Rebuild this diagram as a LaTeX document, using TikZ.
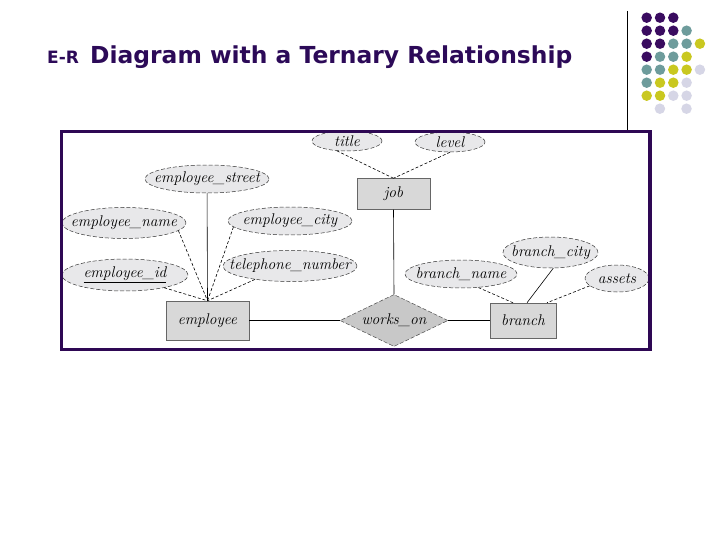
\documentclass[tikz,border=0pt]{standalone}
\usepackage{fontspec}
\usetikzlibrary{shapes.geometric}
\newfontfamily\titlefont{DejaVu Sans}
\definecolor{titlepurple}{RGB}{44,10,88}
\definecolor{framepurple}{RGB}{46,8,84}
\definecolor{dotP}{RGB}{58,12,96}
\definecolor{dotT}{RGB}{110,156,156}
\definecolor{dotY}{RGB}{201,200,32}
\definecolor{dotL}{RGB}{214,214,230}
\definecolor{attrgray}{RGB}{232,232,234}
\definecolor{boxgray}{RGB}{216,216,216}
\definecolor{relgray}{RGB}{200,200,200}
\tikzset{
  attrtext/.style={inner sep=0pt, font=\fontsize{15.5}{18}\selectfont\itshape},
  attr/.style={ellipse, draw=black!80, dash pattern=on 4pt off 2pt, line width=0.5pt,
    fill=attrgray, inner sep=0pt, label={[attrtext]center:#1}},
  entity/.style={rectangle, draw=black!60, line width=0.5pt, fill=boxgray, inner sep=0pt,
    font=\fontsize{15.5}{18}\selectfont\itshape},
  rel/.style={diamond, aspect=2.08, draw=black!70, dash pattern=on 4pt off 2pt, line width=0.5pt,
    fill=relgray, inner sep=0pt, font=\fontsize{15.5}{18}\selectfont\itshape},
  solidlink/.style={draw=black, line width=0.6pt},
  dashlink/.style={draw=black, line width=0.6pt, dash pattern=on 3pt off 2pt},
  dot/.style={circle, inner sep=0pt, minimum size=10.5pt}
}
\begin{document}
\begin{tikzpicture}[x=1pt,y=-1pt]
\useasboundingbox (0,0) rectangle (720,540);
\fill[white] (0,0) rectangle (720,540);

% title
\node[anchor=base west, inner sep=0pt, text=titlepurple] (er) at (47,64)
  {\fontsize{17}{20}\titlefont\bfseries E-R};
\node[anchor=base west, inner sep=0pt, text=titlepurple] (ttl) at (90,64)
  {\fontsize{23.4}{28}\titlefont\bfseries Diagram with a Ternary Relationship};

% decoration: vertical line and dots
\coordinate (vt) at (627,11);
\coordinate (vb) at (627,130);
\draw[line width=1pt] (vt) -- (vb);
\foreach \c [count=\i] in {dotP,dotP,dotP}{\node[dot, fill=\c] at ({633.4+13.3*\i},17.7) {};}
\foreach \c [count=\i] in {dotP,dotP,dotP,dotT}{\node[dot, fill=\c] at ({633.4+13.3*\i},30.7) {};}
\foreach \c [count=\i] in {dotP,dotP,dotT,dotT,dotY}{\node[dot, fill=\c] at ({633.4+13.3*\i},43.7) {};}
\foreach \c [count=\i] in {dotP,dotT,dotT,dotY}{\node[dot, fill=\c] at ({633.4+13.3*\i},56.7) {};}
\foreach \c [count=\i] in {dotT,dotT,dotY,dotY,dotL}{\node[dot, fill=\c] at ({633.4+13.3*\i},69.7) {};}
\foreach \c [count=\i] in {dotT,dotY,dotY,dotL}{\node[dot, fill=\c] at ({633.4+13.3*\i},82.7) {};}
\foreach \c [count=\i] in {dotY,dotY,dotL,dotL}{\node[dot, fill=\c] at ({633.4+13.3*\i},95.7) {};}
\node[dot, fill=dotL] at (659.9,108.7) {};
\node[dot, fill=dotL] at (686.5,108.7) {};

% attributes
\node[attr={employee\_street}, minimum width=124pt, minimum height=28pt] (street) at (207,179) {};
\node[attr={employee\_name}, minimum width=124pt, minimum height=31pt] (ename) at (124,223) {};
\node[attr={employee\_city}, minimum width=124pt, minimum height=28pt] (ecity) at (290,221) {};
\node[attr={\underline{employee\_id}}, minimum width=126pt, minimum height=32pt] (eid) at (125,275) {};
\node[attr={telephone\_number}, minimum width=134pt, minimum height=31pt] (tel) at (290,266) {};
\node[attr={title}, minimum width=70pt, minimum height=20pt] (title) at (347,141) {};
\node[attr={level}, minimum width=70pt, minimum height=20pt] (level) at (450,142) {};
\node[attr={branch\_name}, minimum width=112pt, minimum height=28pt] (bname) at (461,274) {};
\node[attr={branch\_city}, minimum width=95pt, minimum height=31pt] (bcity) at (550.5,252.5) {};
\node[attr={assets}, minimum width=64pt, minimum height=27pt] (assets) at (617,278.5) {};

% entities and relationship
\node[entity, minimum width=73pt, minimum height=31pt] (job) at (393.5,194) {job};
\node[entity, minimum width=83pt, minimum height=39pt] (emp) at (207.5,320.5) {employee};
\node[entity, minimum width=66pt, minimum height=35pt] (branch) at (523,320.5) {branch};
\node[rel, minimum width=108pt, minimum height=52pt] (works) at (394,320.5) {works\_on};

% connectors
\draw[solidlink] (street) -- (emp.north);
\draw[dashlink] (ename.-8) -- (emp.north);
\draw[dashlink] (ecity.186) -- (emp.north);
\draw[dashlink] (eid.-18) -- (emp.north);
\draw[dashlink] (tel.201) -- (emp.north);
\draw[dashlink] (title.224) -- (job.north);
\draw[dashlink] (level.south) -- (job.north);
\draw[solidlink] (job.south) -- (works.north);
\draw[solidlink] (emp.east) -- (works.west);
\draw[solidlink] (works.east) -- (branch.west);
\draw[dashlink] (bname.-38) -- ([xshift=-10pt]branch.north);
\draw[solidlink] (bcity.-80) -- ([xshift=4pt]branch.north);
\draw[dashlink] (assets.195) -- ([xshift=24pt]branch.north);

% frame
\draw[framepurple, line width=3.5pt] (61.5,131.5) rectangle (650,349.5);
\end{tikzpicture}
\end{document}
